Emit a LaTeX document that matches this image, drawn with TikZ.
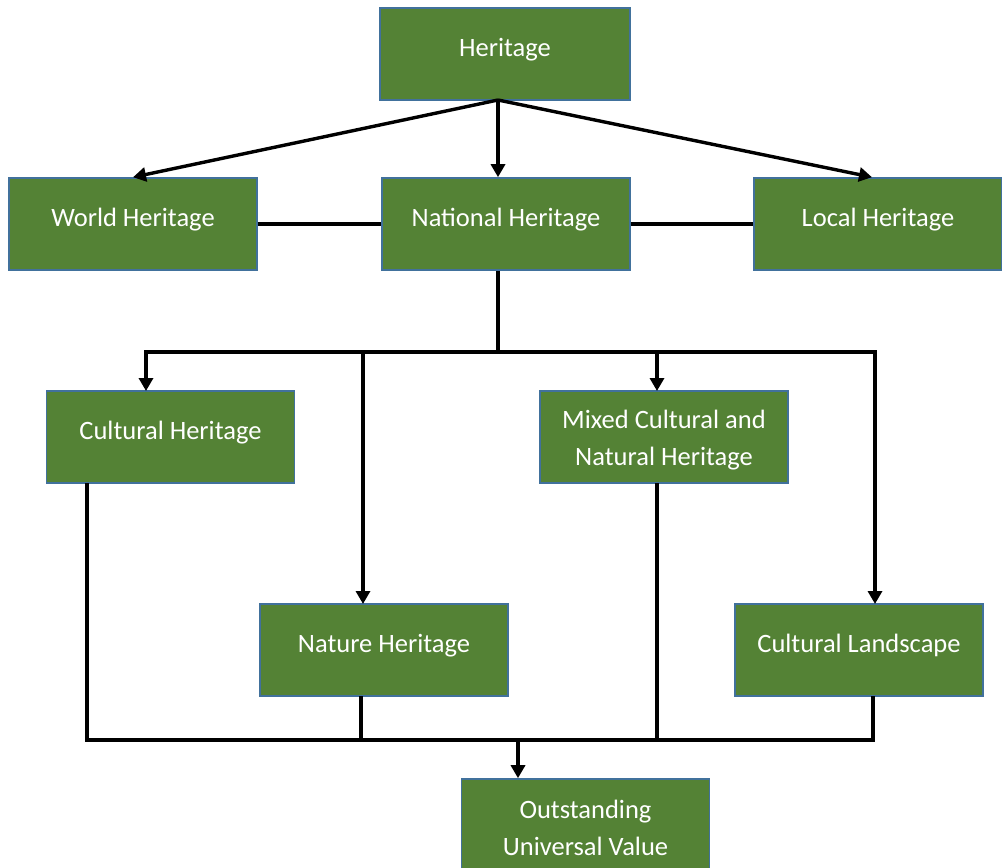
\documentclass[tikz,border=0pt]{standalone}
\usepackage{fontspec}
\setmainfont{Carlito}
\usetikzlibrary{arrows.meta}
\definecolor{boxfill}{HTML}{548235}
\definecolor{boxline}{HTML}{41719C}
\begin{document}
\begin{tikzpicture}[x=1pt,y=-1pt,
  box/.style={draw=boxline, line width=1.6pt, fill=boxfill,
    minimum width=248pt, minimum height=92pt, inner sep=0pt},
  lbl/.style={text=white, inner sep=0pt, align=center,
    font=\fontsize{26.5}{36.5}\selectfont},
  one/.style={lbl, anchor=base},
  two/.style={lbl, anchor=center},
  link/.style={line width=3.4pt, line join=miter},
  arr/.style={link, -{Triangle[length=13pt,width=14pt]}}]
\useasboundingbox (0,0) rectangle (1002,868);

% boxes
\node[box, minimum width=250pt] (her) at (505,54) {};
\node[box] (wh)  at (133,224) {};
\node[box] (nh)  at (506,224) {};
\node[box] (lh)  at (878,224) {};
\node[box] (ch)  at (170.5,437) {};
\node[box] (mx)  at (664,437) {};
\node[box] (nat) at (384,650) {};
\node[box] (cl)  at (859,650) {};
\node[box] (ouv) at (585.5,825) {};

% box texts
\node[one] (her-t) at (505,56) {Heritage};
\node[one] (wh-t)  at (133,226) {World Heritage};
\node[one] (nh-t)  at (506,226) {National Heritage};
\node[one] (lh-t)  at (878,226) {Local Heritage};
\node[one] (ch-t)  at (170.5,439) {Cultural Heritage};
\node[two] (mx-t)  at (664,440) {Mixed Cultural and\\Natural Heritage};
\node[one] (nat-t) at (384,652) {Nature Heritage};
\node[one] (cl-t)  at (859,652) {Cultural Landscape};
\node[two] (ouv-t) at (585.5,828) {Outstanding\\Universal Value};

% junction points
\coordinate (hub)   at (498,100);
\coordinate (bus)   at (498,352);
\coordinate (chIn)  at (146,391);
\coordinate (natIn) at (363,604);
\coordinate (mxIn)  at (657,391);
\coordinate (clIn)  at (875,604);
\coordinate (chOut)  at (87,483);
\coordinate (natOut) at (361,696);
\coordinate (mxOut)  at (657,483);
\coordinate (clOut)  at (873,696);
\coordinate (sink)   at (518,740);

% Heritage to its three levels
\draw[arr] (hub) -- (wh.north);
\draw[arr] (hub) -- (nh.north -| hub);
\draw[arr] (hub) -- ([xshift=-6pt]lh.north);

% links between levels
\draw[link] (wh.east) -- (nh.west);
\draw[link] (nh.east) -- (lh.west);

% National Heritage to the four categories
\draw[link] (nh.south -| hub) -- (bus);
\draw[arr] (bus) -| (chIn);
\draw[arr] (bus) -| (clIn);
\draw[arr] (natIn |- bus) -- (natIn);
\draw[arr] (mxIn |- bus) -- (mxIn);

% categories to Outstanding Universal Value
\draw[link] (chOut) |- (sink) -| (clOut);
\draw[link] (natOut) -- (natOut |- sink);
\draw[link] (mxOut) -- (mxOut |- sink);
\draw[arr] (sink) -- (ouv.north -| sink);
\end{tikzpicture}
\end{document}
